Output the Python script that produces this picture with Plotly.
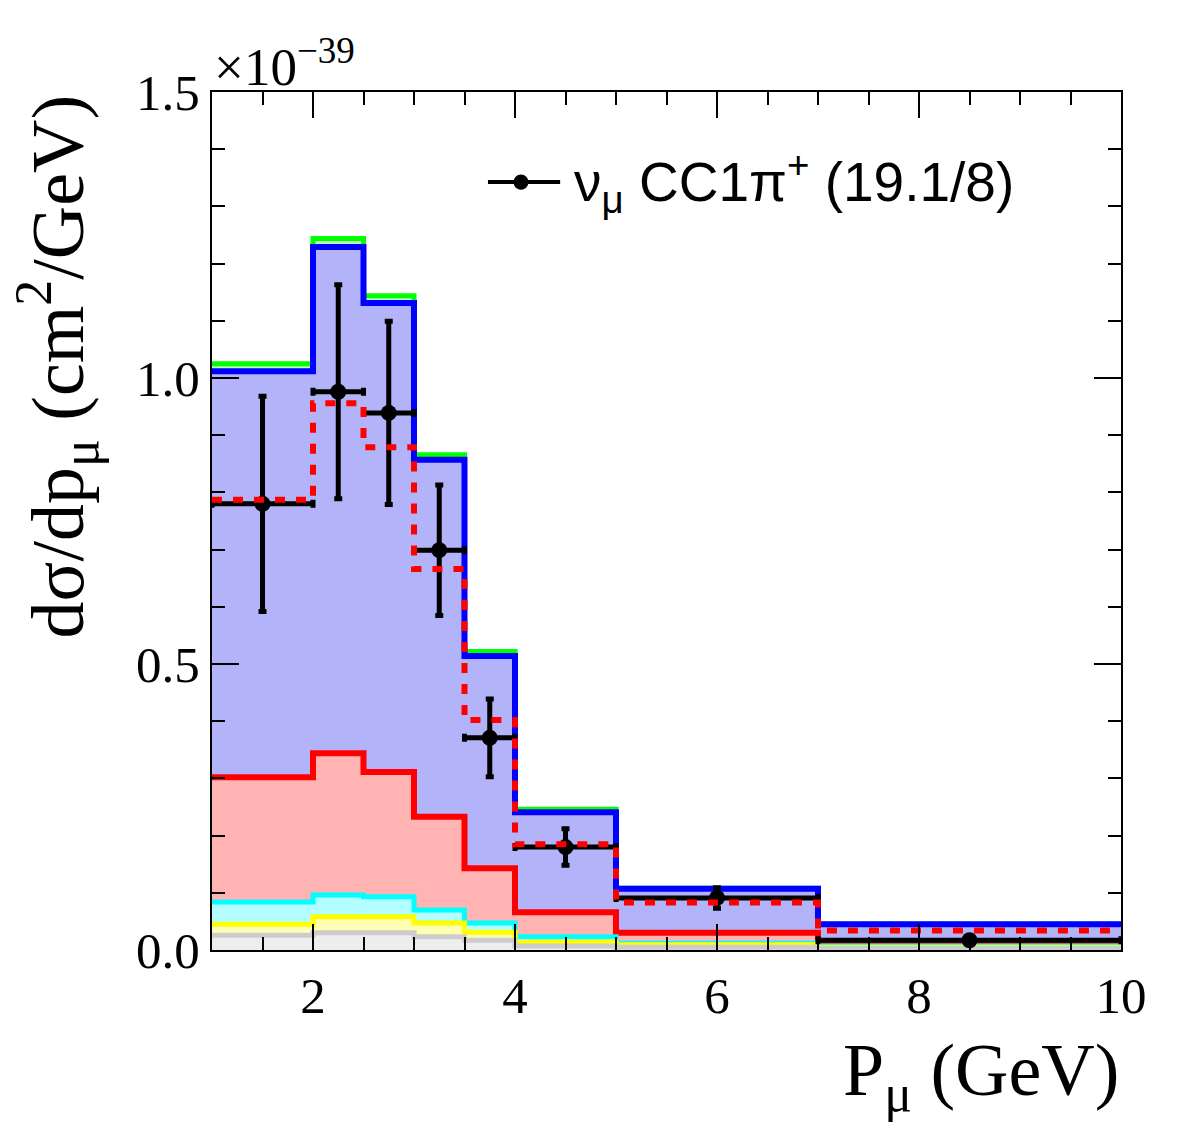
import plotly.graph_objects as go

# ---- data (units of 1e-39 cm^2/GeV) ----
bin_edges = [1, 2, 2.5, 3, 3.5, 4, 5, 7, 10]
bin_centers = [1.5, 2.25, 2.75, 3.25, 3.75, 4.5, 6, 8.5]
bin_halfwidths = [0.5, 0.25, 0.25, 0.25, 0.25, 0.5, 1.0, 1.5]

# cumulative stack tops (bottom -> top)
stack_grey = [0.026, 0.030, 0.030, 0.023, 0.017, 0.007, 0.005, 0.003]
stack_yellow = [0.045, 0.058, 0.058, 0.047, 0.031, 0.014, 0.009, 0.005]
stack_cyan = [0.084, 0.096, 0.093, 0.070, 0.047, 0.023, 0.012, 0.007]
stack_red = [0.302, 0.344, 0.311, 0.233, 0.143, 0.066, 0.030, 0.014]
stack_blue = [1.012, 1.229, 1.131, 0.857, 0.514, 0.241, 0.107, 0.045]
stack_green = [1.025, 1.244, 1.144, 0.866, 0.522, 0.246, 0.108, 0.045]

alt_model = [0.787, 0.956, 0.879, 0.666, 0.402, 0.185, 0.083, 0.034]

data_y = [0.780, 0.976, 0.939, 0.699, 0.371, 0.180, 0.091, 0.017]
data_err = [0.188, 0.187, 0.160, 0.114, 0.068, 0.032, 0.018, 0.004]

y_ticks = [0.0, 0.5, 1.0, 1.5]
y_ticklabels = ["0.0", "0.5", "1.0", "1.5"]
x_ticks = [2, 4, 6, 8, 10]

legend_label = "ν<sub>μ</sub> CC1π<sup>+</sup> (19.1/8)"


def step(vals):
    return list(vals) + [vals[-1]]


fig = go.Figure()

layers = [
    (stack_green, "#00ff00", "#b3ffb3", 5),
    (stack_blue, "#0000ff", "#b3b3fa", 6),
    (stack_red, "#ff0000", "#ffb3b3", 6),
    (stack_cyan, "#00ffff", "#b3ffff", 5),
    (stack_yellow, "#ffff00", "#ffffb3", 5),
    (stack_grey, "#cccccc", "#ededed", 5),
]
for vals, lc, fc, lw in layers:
    fig.add_trace(go.Scatter(
        x=bin_edges, y=step(vals), mode="lines",
        line=dict(color=lc, width=lw, shape="hv"),
        fill="tozeroy", fillcolor=fc, showlegend=False, hoverinfo="skip"))

fig.add_trace(go.Scatter(
    x=bin_centers, y=data_y, mode="markers",
    marker=dict(color="black", size=16, symbol="circle"),
    error_y=dict(type="data", array=data_err, color="black", thickness=5, width=4),
    error_x=dict(type="data", array=bin_halfwidths, color="black", thickness=5, width=4),
    showlegend=False))

fig.add_trace(go.Scatter(
    x=bin_edges, y=step(alt_model), mode="lines",
    line=dict(color="#ff0000", width=6, shape="hv", dash="10px,11px"),
    showlegend=False, hoverinfo="skip"))

serif = "Liberation Serif"
sans = "Liberation Sans"

fig.update_layout(
    width=1182, height=1134, autosize=False,
    margin=dict(l=212, r=61, t=92, b=184),
    paper_bgcolor="white", plot_bgcolor="white",
    showlegend=False,
    xaxis=dict(
        range=[1, 10], tickvals=x_ticks, ticks="inside", ticklen=26, tickwidth=2,
        tickcolor="black", showline=True, linecolor="black", linewidth=2, mirror="ticks",
        showgrid=False, zeroline=False,
        tickfont=dict(family=serif, size=51, color="black"),
        minor=dict(dtick=0.5, tick0=0, ticks="inside", ticklen=13, tickwidth=2, tickcolor="black", showgrid=False),
    ),
    yaxis=dict(
        range=[0, 1.5], tickvals=y_ticks, ticktext=y_ticklabels, ticks="inside", ticklen=27,
        tickwidth=2, tickcolor="black", showline=True, linecolor="black", linewidth=2,
        mirror="ticks", showgrid=False, zeroline=False,
        tickfont=dict(family=serif, size=51, color="black"),
        minor=dict(dtick=0.1, tick0=0, ticks="inside", ticklen=13, tickwidth=2, tickcolor="black", showgrid=False),
    ),
)

# axis titles & exponent
fig.add_annotation(text="dσ/dp<sub>μ</sub> (cm<sup>2</sup>/GeV)", xref="paper", yref="paper",
                   x=-0.17, y=1.0, xanchor="center", yanchor="top", textangle=-90,
                   showarrow=False, font=dict(family=serif, size=74, color="black"))
fig.add_annotation(text="P<sub>μ</sub> (GeV)", xref="paper", yref="paper",
                   x=1.0, y=-0.09, xanchor="right", yanchor="top",
                   showarrow=False, font=dict(family=serif, size=74, color="black"))
fig.add_annotation(text="×10<sup>−39</sup>", xref="paper", yref="paper",
                   x=0.0, y=1.0, xanchor="left", yanchor="bottom", yshift=-6,
                   showarrow=False, font=dict(family=serif, size=53, color="black"))

# legend
ly = 0.895
fig.add_shape(type="line", xref="paper", yref="paper", x0=0.3036, x1=0.383, y0=ly, y1=ly,
              line=dict(color="black", width=4))
fig.add_shape(type="circle", xref="paper", yref="paper", x0=0.3399 - 0.0083, x1=0.3399 + 0.0083,
              y0=ly - 0.0088, y1=ly + 0.0088, fillcolor="black", line=dict(color="black", width=0))
fig.add_annotation(text=legend_label, xref="paper", yref="paper", x=0.396, y=ly,
                   xanchor="left", yanchor="middle", showarrow=False,
                   font=dict(family=sans, size=55, color="black"))

fig.write_html("out.html")
